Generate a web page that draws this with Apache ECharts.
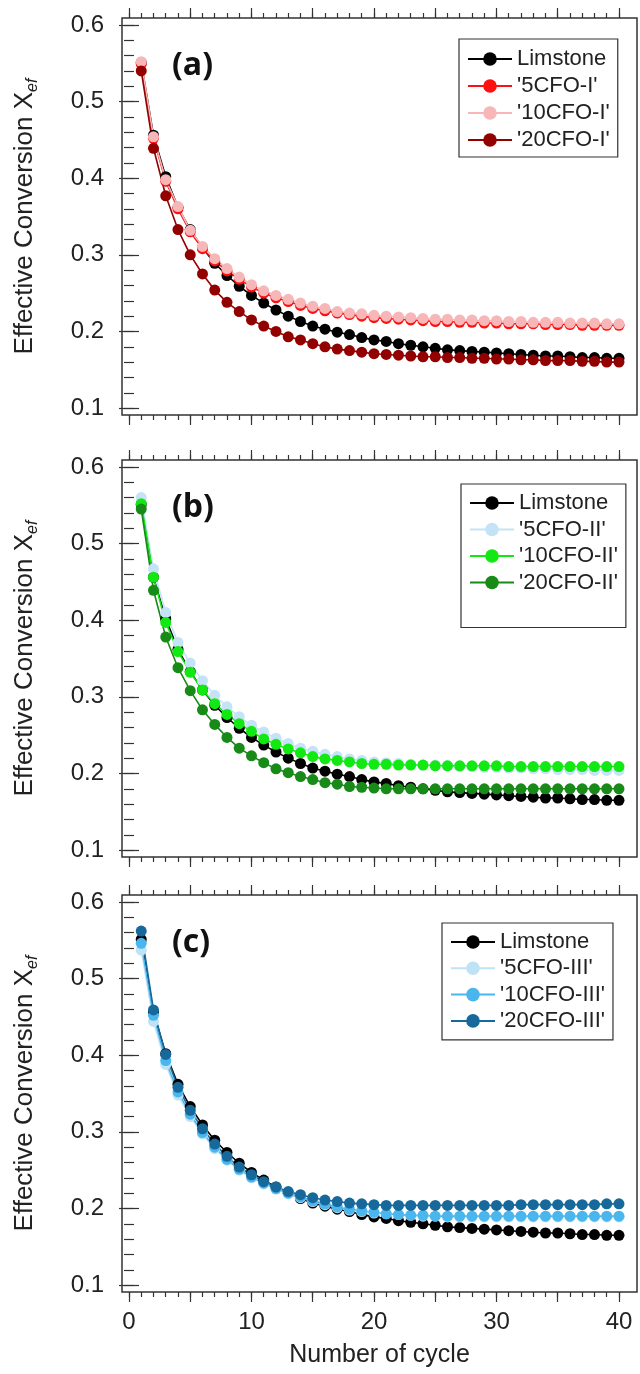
<!DOCTYPE html>
<html lang="en">
<head>
    <meta charset="UTF-8">
    <title>Effective Conversion vs cycle</title>
    <script src="https://cdn.jsdelivr.net/npm/echarts@6.0.0/dist/echarts.min.js"></script>
    <style>
        html, body { margin: 0; padding: 0; background: #fff; }
        #chart { width: 640px; height: 1374px; }
    </style>
</head>
<body>
    <div id="chart"></div>

    <script>
        // cycle numbers (x)
        const cycles = [1, 2, 3, 4, 5, 6, 7, 8, 9, 10, 11, 12, 13, 14, 15, 16, 17, 18, 19, 20,
            21, 22, 23, 24, 25, 26, 27, 28, 29, 30, 31, 32, 33, 34, 35, 36, 37, 38, 39, 40];

        // reference material, same curve in all three panels
        const limestone = [0.551, 0.456, 0.402, 0.362, 0.333, 0.309, 0.289, 0.273, 0.259, 0.247,
            0.237, 0.228, 0.220, 0.213, 0.207, 0.203, 0.199, 0.196, 0.192, 0.189,
            0.187, 0.184, 0.182, 0.180, 0.178, 0.176, 0.175, 0.174, 0.173, 0.172,
            0.171, 0.170, 0.169, 0.168, 0.168, 0.167, 0.166, 0.166, 0.165, 0.165];

        // panel (a)
        const cfo5I = [0.549, 0.452, 0.396, 0.360, 0.330, 0.308, 0.292, 0.279, 0.268, 0.258,
            0.250, 0.244, 0.239, 0.234, 0.230, 0.227, 0.224, 0.222, 0.220, 0.218,
            0.217, 0.216, 0.215, 0.214, 0.213, 0.213, 0.212, 0.212, 0.211, 0.211,
            0.210, 0.210, 0.210, 0.209, 0.209, 0.209, 0.208, 0.208, 0.208, 0.208];
        const cfo10I = [0.552, 0.454, 0.398, 0.363, 0.332, 0.311, 0.295, 0.282, 0.271, 0.261,
            0.253, 0.247, 0.242, 0.237, 0.233, 0.230, 0.226, 0.224, 0.223, 0.221,
            0.220, 0.219, 0.218, 0.217, 0.216, 0.216, 0.215, 0.215, 0.214, 0.214,
            0.213, 0.213, 0.212, 0.212, 0.212, 0.211, 0.211, 0.211, 0.210, 0.210];
        const cfo20I = [0.540, 0.439, 0.377, 0.333, 0.300, 0.275, 0.254, 0.238, 0.226, 0.215,
            0.207, 0.200, 0.193, 0.189, 0.184, 0.180, 0.177, 0.175, 0.173, 0.171,
            0.170, 0.169, 0.168, 0.167, 0.167, 0.166, 0.166, 0.165, 0.165, 0.164,
            0.164, 0.163, 0.163, 0.162, 0.162, 0.162, 0.161, 0.161, 0.160, 0.160];

        // panel (b)
        const cfo5II = [0.560, 0.467, 0.410, 0.371, 0.344, 0.321, 0.302, 0.287, 0.274, 0.263,
            0.254, 0.246, 0.239, 0.233, 0.229, 0.225, 0.222, 0.219, 0.217, 0.215,
            0.214, 0.213, 0.212, 0.211, 0.211, 0.210, 0.209, 0.209, 0.208, 0.208,
            0.207, 0.207, 0.206, 0.206, 0.205, 0.205, 0.205, 0.204, 0.204, 0.204];
        const cfo10II = [0.552, 0.456, 0.397, 0.359, 0.332, 0.309, 0.291, 0.277, 0.265, 0.255,
            0.245, 0.238, 0.232, 0.227, 0.222, 0.219, 0.217, 0.215, 0.213, 0.212,
            0.212, 0.211, 0.211, 0.211, 0.210, 0.210, 0.210, 0.210, 0.210, 0.210,
            0.209, 0.209, 0.209, 0.209, 0.209, 0.209, 0.209, 0.209, 0.209, 0.209];
        const cfo20II = [0.545, 0.439, 0.378, 0.338, 0.308, 0.283, 0.264, 0.247, 0.233, 0.223,
            0.214, 0.206, 0.201, 0.196, 0.192, 0.188, 0.186, 0.183, 0.182, 0.181,
            0.180, 0.180, 0.180, 0.180, 0.180, 0.180, 0.180, 0.180, 0.180, 0.180,
            0.180, 0.180, 0.180, 0.180, 0.180, 0.180, 0.180, 0.180, 0.180, 0.180];

        // panel (c)
        const cfo5III = [0.537, 0.444, 0.388, 0.348, 0.320, 0.297, 0.278, 0.263, 0.250, 0.240,
            0.232, 0.225, 0.219, 0.214, 0.209, 0.205, 0.201, 0.198, 0.196, 0.194,
            0.193, 0.192, 0.191, 0.190, 0.190, 0.189, 0.189, 0.189, 0.189, 0.189,
            0.189, 0.189, 0.189, 0.189, 0.189, 0.189, 0.189, 0.189, 0.189, 0.189];
        const cfo10III = [0.546, 0.452, 0.393, 0.352, 0.323, 0.299, 0.280, 0.264, 0.251, 0.241,
            0.233, 0.226, 0.220, 0.215, 0.210, 0.206, 0.202, 0.199, 0.197, 0.195,
            0.193, 0.192, 0.191, 0.191, 0.190, 0.190, 0.190, 0.190, 0.190, 0.190,
            0.190, 0.190, 0.190, 0.190, 0.190, 0.190, 0.190, 0.190, 0.190, 0.190];
        const cfo20III = [0.562, 0.459, 0.401, 0.358, 0.328, 0.304, 0.284, 0.268, 0.254, 0.244,
            0.235, 0.228, 0.222, 0.218, 0.214, 0.211, 0.209, 0.207, 0.206, 0.205,
            0.204, 0.204, 0.204, 0.204, 0.204, 0.204, 0.204, 0.204, 0.204, 0.204,
            0.204, 0.205, 0.205, 0.205, 0.205, 0.205, 0.205, 0.205, 0.206, 0.206];

        // tick positions / labels
        const xMajorTicks = [0, 5, 10, 15, 20, 25, 30, 35, 40];
        const xMinorTicks = [0, 1, 2, 3, 4, 5, 6, 7, 8, 9, 10, 11, 12, 13, 14, 15, 16, 17, 18, 19, 20,
            21, 22, 23, 24, 25, 26, 27, 28, 29, 30, 31, 32, 33, 34, 35, 36, 37, 38, 39, 40];
        const xTickLabels = [0, 10, 20, 30, 40];
        const yMajorTicks = [0.1, 0.2, 0.3, 0.4, 0.5, 0.6];
        const yMinorTicks = [0.1, 0.12, 0.14, 0.16, 0.18, 0.2, 0.22, 0.24, 0.26, 0.28, 0.3,
            0.32, 0.34, 0.36, 0.38, 0.4, 0.42, 0.44, 0.46, 0.48, 0.5,
            0.52, 0.54, 0.56, 0.58, 0.6];

        const X_MIN = -0.57, X_MAX = 41.47;
        const Y_MIN = 0.091, Y_MAX = 0.609;
        const FONT = '"Liberation Sans", Arial, sans-serif';
        const INK = '#222';

        const panels = [
            {
                tag: '(a)', top: 18, legend: { left: 459, top: 39, padding: [9, 8, 6, 8], gap: 5 },
                series: [
                    { name: 'Limstone', data: limestone, color: '#000000' },
                    { name: "'5CFO-I'", data: cfo5I, color: '#ff1010' },
                    { name: "'10CFO-I'", data: cfo10I, color: '#f7b7b9' },
                    { name: "'20CFO-I'", data: cfo20I, color: '#930000' }
                ]
            },
            {
                tag: '(b)', top: 460, legend: { left: 461, top: 484, padding: [8, 8, 34, 8], gap: 4.5 },
                series: [
                    { name: 'Limstone', data: limestone, color: '#000000' },
                    { name: "'5CFO-II'", data: cfo5II, color: '#c4e3f6' },
                    { name: "'10CFO-II'", data: cfo10II, color: '#12e812' },
                    { name: "'20CFO-II'", data: cfo20II, color: '#178a17' }
                ]
            },
            {
                tag: '(c)', top: 895, legend: { left: 442, top: 923, padding: [8, 8, 8, 8], gap: 4.3 },
                series: [
                    { name: 'Limstone', data: limestone, color: '#000000' },
                    { name: "'5CFO-III'", data: cfo5III, color: '#c0e2f7' },
                    { name: "'10CFO-III'", data: cfo10III, color: '#4ab6ee' },
                    { name: "'20CFO-III'", data: cfo20III, color: '#17699b' }
                ]
            }
        ];

        const grids = [], xAxes = [], yAxes = [], series = [], legends = [], titles = [];
        const tickStyle = { color: '#333', width: 1.2 };

        panels.forEach((p, gi) => {
            const isLast = gi === panels.length - 1;
            grids.push({
                left: 122, right: 3, top: p.top, height: 397,
                show: true, borderColor: '#333', borderWidth: 1.5, backgroundColor: 'transparent'
            });

            // x axes: bottom major/minor, top major/minor
            const xi = xAxes.length;
            [['bottom', xMajorTicks, 10], ['bottom', xMinorTicks, 5],
             ['top', xMajorTicks, 10], ['top', xMinorTicks, 5]].forEach(([pos, ticks, len], k) => {
                const main = k === 0 && isLast;
                xAxes.push({
                    type: 'value', gridIndex: gi, position: pos, min: X_MIN, max: X_MAX,
                    axisLine: { show: false },
                    axisTick: { show: true, customValues: ticks, length: len, lineStyle: tickStyle },
                    axisLabel: main
                        ? { show: true, customValues: xTickLabels, margin: 18, fontSize: 24, fontFamily: FONT, color: INK }
                        : { show: false },
                    splitLine: { show: false },
                    name: main ? 'Number of cycle' : '',
                    nameLocation: 'middle', nameGap: 51,
                    nameTextStyle: { fontSize: 25, fontFamily: FONT, color: INK }
                });
            });

            // y axes: left major/minor, right major/minor
            const yi = yAxes.length;
            [['left', yMajorTicks, 10], ['left', yMinorTicks, 5],
             ['right', yMajorTicks, 10], ['right', yMinorTicks, 5]].forEach(([pos, ticks, len], k) => {
                const main = k === 0;
                yAxes.push({
                    type: 'value', gridIndex: gi, position: pos, min: Y_MIN, max: Y_MAX,
                    axisLine: { show: false },
                    axisTick: { show: true, customValues: ticks, length: len, lineStyle: tickStyle },
                    axisLabel: main
                        ? { show: true, customValues: yMajorTicks, margin: 18, fontSize: 24, fontFamily: FONT, color: INK,
                            formatter: v => v.toFixed(1) }
                        : { show: false },
                    splitLine: { show: false },
                    name: main ? '{n|Effective Conversion X}{s|ef}' : '',
                    nameLocation: 'middle', nameGap: 81,
                    nameTextStyle: {
                        fontFamily: FONT, color: INK,
                        rich: {
                            n: { fontSize: 26, fontFamily: FONT, color: INK, lineHeight: 32 },
                            s: { fontSize: 16, fontFamily: FONT, color: INK, fontStyle: 'italic',
                                 lineHeight: 16, verticalAlign: 'bottom' }
                        }
                    }
                });
            });

            p.series.forEach(s => {
                series.push({
                    type: 'line', name: s.name, xAxisIndex: xi, yAxisIndex: yi,
                    data: cycles.map((c, i) => [c, s.data[i]]),
                    symbol: 'circle', symbolSize: 11,
                    lineStyle: { color: s.color, width: 1.6 },
                    itemStyle: { color: s.color },
                    emphasis: { disabled: true },
                    animation: false
                });
            });

            legends.push({
                data: p.series.map(s => s.name),
                left: p.legend.left, top: p.legend.top, orient: 'vertical',
                padding: p.legend.padding, itemGap: p.legend.gap,
                itemWidth: 44, itemHeight: 17,
                borderColor: '#333', borderWidth: 1.2, backgroundColor: '#fff',
                selectedMode: false,
                textStyle: { fontSize: 22, lineHeight: 20, fontFamily: FONT, color: INK }
            });

            titles.push({
                text: p.tag, left: 167, top: p.top + 26, padding: 5,
                textStyle: { fontSize: 32, lineHeight: 34, fontWeight: 'bold', fontFamily: '"Open Sans", sans-serif', color: '#111' }
            });
        });

        const chart = echarts.init(document.getElementById('chart'), null, { renderer: 'canvas' });
        chart.setOption({
            animation: false,
            backgroundColor: '#fff',
            title: titles,
            grid: grids,
            xAxis: xAxes,
            yAxis: yAxes,
            legend: legends,
            series: series
        });
    </script>
</body>
</html>
